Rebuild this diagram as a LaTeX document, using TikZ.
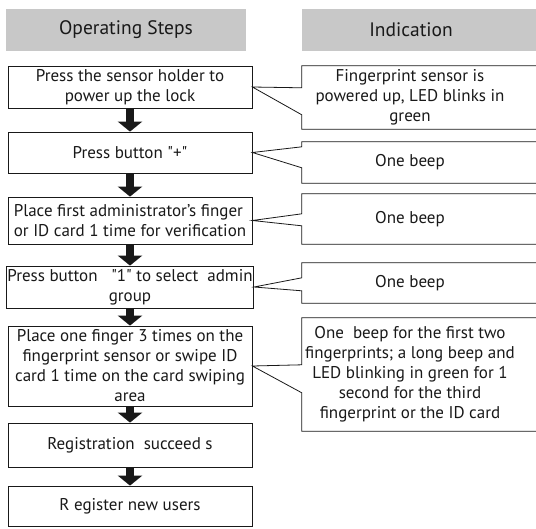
\documentclass[tikz,border=0pt]{standalone}
\usepackage{fontspec}
\setmainfont{PT Sans}[Ligatures=TeXOff]
\usetikzlibrary{arrows.meta,calc}
\definecolor{hdrgray}{RGB}{200,200,200}
\definecolor{ink}{RGB}{25,25,25}
\begin{document}
\begin{tikzpicture}[x=1pt,y=-1pt,
  header/.style={fill=hdrgray, minimum height=42pt, inner sep=0pt,
    font=\fontsize{19.5}{22}\selectfont, text=ink},
  stepbox/.style={draw=ink, line width=0.8pt, minimum width=244pt, inner sep=1pt,
    align=center, font=\fontsize{17}{20}\selectfont, text=ink},
  notebox/.style={minimum width=216pt, inner sep=1pt, align=center,
    font=\fontsize{17}{20}\selectfont, text=ink},
  flow/.style={draw=ink, line width=8pt, -{Triangle[width=24pt,length=10pt]}},
  pointer/.style={draw=ink, line width=0.8pt, line join=miter}
]
% canvas
\fill[white] (0,0) rectangle (536,528);
\useasboundingbox (0,0) rectangle (536,528);

% column headers
\node[header, minimum width=240pt] (hsteps) at (126,30) {Operating Steps};
\node[header, minimum width=218pt] (hind) at (411,30) {Indication};
\fill[hdrgray] (hind.north east) rectangle ($(hind.south east)+(20,0)$);

% operating steps
\node[stepbox, minimum height=42pt] (s1) at (130,87)
  {Press the sensor holder to\\power up the lock};
\node[stepbox, minimum height=41pt] (s2) at (130,152.5) {Press button "+"};
\node[stepbox, minimum height=47pt, align=left] (s3) at (130,220.5)
  {Place first administrator’s finger\\or ID card 1 time for verification};
\node[stepbox, minimum height=42pt] (s4) at (130,287)
  {Press button \ \ "1" to select \ admin\\group};
\node[stepbox, minimum height=80pt] (s5) at (130,366)
  {Place one finger 3 times on the\\fingerprint sensor or swipe ID\\card 1 time on the card swiping\\area};
\node[stepbox, minimum height=44pt] (s6) at (130,445) {Registration \ succeed s};
\node[stepbox, minimum height=40pt] (s7) at (130,506) {R egister new users};

% indications (their frames run past the right edge)
\node[notebox, minimum height=63pt] (r1) at (410,97.5)
  {Fingerprint sensor is\\powered up, LED blinks in\\green};
\node[notebox, minimum height=41pt] (r2) at (410,162.5) {One beep};
\node[notebox, minimum height=50pt] (r3) at (410,219) {One beep};
\node[notebox, minimum height=40pt] (r4) at (410,283) {One beep};
\node[notebox, minimum height=113pt] (r5) at (410,374.5)
  {One \ beep for the first two\\fingerprints; a long beep and\\LED blinking in green for 1\\second for the third\\fingerprint or the ID card};

% callout outlines pointing back at each step
\foreach \n/\a/\b in {1/22/49, 2/5/26, 3/20/32, 4/15/28, 5/47/75}
  \draw[pointer] (r\n.north west) -- ($(r\n.north east)+(30,0)$)
    -- ($(r\n.south east)+(30,0)$)
    -- (r\n.south west) -- ($(r\n.north west)+(0,\b)$) -- (s\n.east)
    -- ($(r\n.north west)+(0,\a)$) -- cycle;

% flow arrows
\foreach \i/\j in {1/2, 2/3, 3/4, 4/5, 5/6, 6/7}
  \draw[flow] (s\i.south) -- (s\j.north);
\end{tikzpicture}
\end{document}
